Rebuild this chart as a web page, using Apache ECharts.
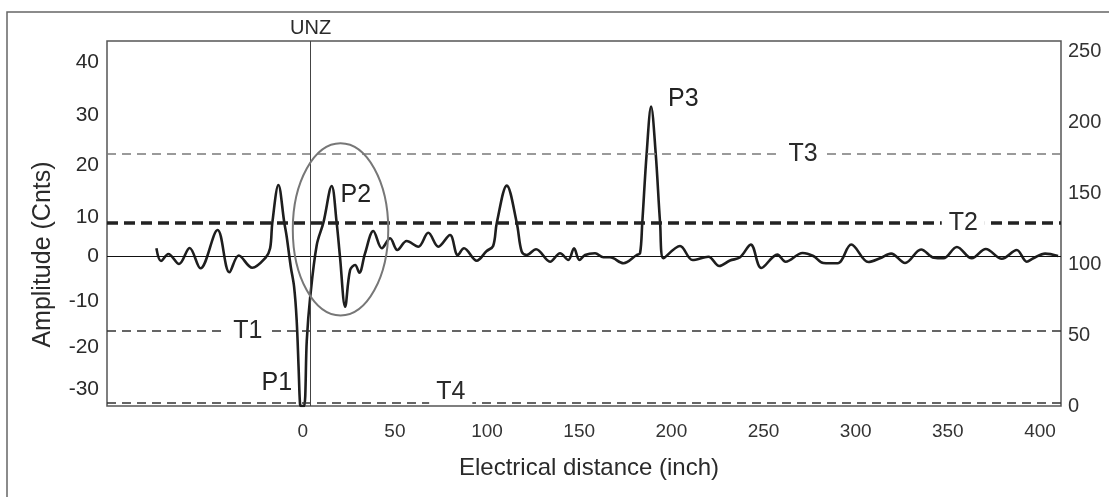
<!DOCTYPE html>
<html>
<head>
<meta charset="utf-8">
<script src="https://cdn.jsdelivr.net/npm/echarts@6/dist/echarts.min.js"></script>
<style>
  html, body { margin: 0; padding: 0; background: #fff; }
  #main { width: 1109px; height: 497px; }
</style>
</head>
<body>
<div id="main"></div>
<script>
// trace of the reflectogram
const distance = [
  -79.4, -76.9, -72.9, -67.1, -61.4, -55.5, -46.2, -39.8, -34.7, -27.4,
  -20.2, -17.7, -16.5, -13.2, -10.0, -8.7, -6.5, -4.7, -3.3, -2.2,
  -1.5, -1.0, 0.7, 2.2, 4.0, 7.6, 11.2, 15.7, 18.4, 20.2,
  23.0, 25.7, 28.4, 30.7, 33.8, 38.3, 42.9, 47.4, 51.3, 56.4,
  62.7, 68.1, 73.6, 79.9, 84.1, 87.5, 94.4, 99.8, 103.3, 105.3,
  110.7, 116.1, 118.8, 121.5, 126.6, 134.2, 139.6, 144.1, 147.2, 150.1,
  153.2, 158.6, 163.1, 166.7, 174.0, 181.2, 183.0, 184.2, 186.6, 189.0,
  191.5, 193.9, 195.7, 204.7, 211.5, 220.1, 226.0, 231.8, 237.3, 243.1,
  248.8, 257.5, 262.0, 271.2, 277.0, 282.5, 290.2, 297.6, 306.9, 313.2,
  319.2, 326.8, 335.5, 342.5, 347.6, 354.9, 363.0, 370.6, 379.3, 387.4,
  392.8, 396.4, 402.8, 409.8
]
const amplitude = [
  1.83, -0.94, 0.59, -1.59, 1.90, -2.53, 5.82, -3.38, 0.26, -2.42,
  -0.24, 1.83, 7.42, 15.64, 7.42, 4.36, -2.18, -6.54, -13.8, -24.7,
  -32.0, -32.56, -32.56, -18.2, -9.0, 2.55, 7.42, 15.42, 7.42, 0,
  -10.9, -2.90, -1.81, -3.49, 0.74, 5.61, 1.83, 4.01, 1.46, 3.42,
  2.18, 5.23, 2.18, 4.73, 0.37, 1.83, -0.87, 1.24, 2.33, 7.42,
  15.49, 7.42, 1.09, 0.37, 1.61, -1.09, 0.74, -0.72, 1.83, -0.72,
  0.37, 0.74, -0.13, -0.13, -1.44, 0.37, 0.74, 7.29, 22.55, 32.72,
  22.55, 7.29, -0.35, 2.33, -0.72, 0, -2.03, -0.83, -0.13, 2.64,
  -2.46, 0.46, -1.09, 0.81, 0.15, -1.37, -1.44, 2.66, -1.16, -0.35,
  0.68, -1.37, 1.57, -0.24, -0.35, 2.12, -0.35, 1.68, -0.46, 1.46,
  -1.09, -0.35, 0.68, 0.15
]

// thresholds (amplitude units)
const thresholdNames = ['T3', 'T2', 'T1', 'T4']
const thresholdLevels = [22.4, 7.42, -16.14, -31.76]
const thresholdLabelAt = [271.5, 358.4, -29.8, 80.3]
const thresholdLabelLevel = [22.4, 7.42, -16.14, -29.5]

// peak annotations
const peakNames = ['P1', 'P2', 'P3']
const peakLabelAt = [[-14.1, -27.5], [28.8, 13.46], [206.5, 34.35]]

const unzAt = 4.3
const ellipseCenter = [20.5, 5.95]
const ellipseRadius = [25.9, 18.78]

// axis ticks (the left scale of the figure is not evenly spaced)
const xTicks = [0, 50, 100, 150, 200, 250, 300, 350, 400]
const leftTickLabels = ['40', '30', '20', '10', '0', '-10', '-20', '-30']
const leftTickAt = [42.46, 30.75, 20.0, 8.72, 0, -9.81, -19.76, -28.92]
const rightTicks = [0, 50, 100, 150, 200, 250]

const font = "'Liberation Sans', Arial, sans-serif"
const chart = echarts.init(document.getElementById('main'))

const dash = (type, width, color) => ({ type, width, color })
const thresholdStyles = [
  dash([9, 6], 1.5, '#7a7a7a'),
  dash([11, 6], 3.5, '#222'),
  dash([9, 6], 1.5, '#333'),
  dash([9, 6], 1.5, '#333')
]

chart.setOption({
  animation: false,
  textStyle: { fontFamily: font },
  grid: {
    left: 107, top: 41, width: 954, height: 365,
    show: true, borderColor: '#555', borderWidth: 1.5
  },
  xAxis: {
    type: 'value', min: -106.2, max: 411.4,
    axisLine: { show: false }, axisTick: { show: false }, splitLine: { show: false },
    axisLabel: { customValues: xTicks, fontSize: 19, color: '#333', margin: 16 },
    name: 'Electrical distance (inch)', nameLocation: 'middle', nameGap: 50,
    nameTextStyle: { fontSize: 24, color: '#2a2a2a', padding: [0, 0, 0, 10] }
  },
  yAxis: [
    {
      type: 'value', min: -32.56, max: 47.04, position: 'left',
      axisLine: { show: false }, axisTick: { show: false }, splitLine: { show: false },
      axisLabel: {
        customValues: leftTickAt, fontSize: 21, color: '#2a2a2a', margin: 8,
        formatter: (v) => {
          let best = 0
          leftTickAt.forEach((t, i) => { if (Math.abs(t - v) < Math.abs(leftTickAt[best] - v)) best = i })
          return leftTickLabels[best]
        }
      },
      name: 'Amplitude (Cnts)', nameLocation: 'middle', nameGap: 51,
      nameTextStyle: { fontSize: 25, color: '#2a2a2a', padding: [0, 62, 0, 0] }
    },
    {
      type: 'value', min: 0, max: 257.5, position: 'right',
      axisLine: { show: false }, axisTick: { show: false }, splitLine: { show: false },
      axisLabel: { customValues: rightTicks, fontSize: 20, color: '#333', margin: 7 }
    }
  ],
  series: [
    {
      type: 'line',
      data: distance.map((d, i) => [d, amplitude[i]]),
      smooth: 0.35,
      showSymbol: false,
      symbol: 'none',
      lineStyle: { color: '#1e1e1e', width: 2.6 },
      z: 3,
      markLine: {
        silent: true,
        symbol: ['none', 'none'],
        label: { show: false },
        data: [
          { yAxis: 0, lineStyle: { type: 'solid', width: 1, color: '#111' } },
          ...thresholdLevels.map((v, i) => ({ yAxis: v, lineStyle: thresholdStyles[i] })),
          {
            xAxis: unzAt,
            lineStyle: { type: 'solid', width: 1, color: '#444' },
            label: { show: true, position: 'end', formatter: 'UNZ', fontSize: 20, color: '#2a2a2a', distance: 3 }
          }
        ]
      }
    },
    {
      type: 'scatter',
      silent: true,
      symbolSize: 0,
      z: 10,
      itemStyle: { opacity: 1 },
      label: {
        show: true, position: 'inside', formatter: '{b}',
        fontSize: 25, color: '#2a2a2a', textBorderWidth: 0,
        backgroundColor: '#fff', padding: [0, 7]
      },
      data: thresholdNames.map((n, i) => ({ name: n, value: [thresholdLabelAt[i], thresholdLabelLevel[i]] }))
    },
    {
      type: 'scatter',
      silent: true,
      symbolSize: 0,
      z: 10,
      itemStyle: { opacity: 1 },
      label: { show: true, position: 'inside', formatter: '{b}', fontSize: 25, color: '#222', textBorderWidth: 0 },
      data: peakNames.map((n, i) => ({ name: n, value: peakLabelAt[i] }))
    }
  ]
})

const c = chart.convertToPixel({ seriesIndex: 0 }, ellipseCenter)
const e = chart.convertToPixel({ seriesIndex: 0 }, [ellipseCenter[0] + ellipseRadius[0], ellipseCenter[1] + ellipseRadius[1]])
chart.setOption({
  graphic: [
    {
      type: 'rect', silent: true,
      shape: { x: 7, y: 12, width: 1110, height: 500 },
      style: { fill: 'none', stroke: '#666', lineWidth: 1.5 }
    },
    {
      type: 'ellipse', silent: true, z: 5,
      shape: { cx: c[0], cy: c[1], rx: e[0] - c[0], ry: c[1] - e[1] },
      style: { fill: 'none', stroke: '#777', lineWidth: 2 }
    }
  ]
})
</script>
</body>
</html>
